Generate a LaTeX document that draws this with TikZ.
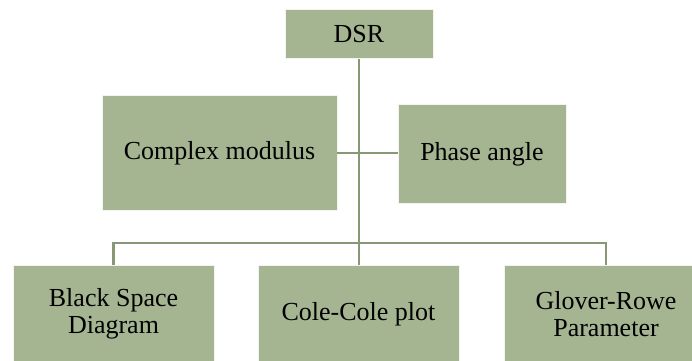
\documentclass[tikz,border=0pt]{standalone}
\usepackage{fontspec}
\setmainfont{Liberation Serif}
\definecolor{sage}{RGB}{165,181,146}
\definecolor{linec}{RGB}{136,152,118}
\begin{document}
\begin{tikzpicture}[x=1pt,y=-1pt,
  box/.style={draw=white!85!sage, line width=0.8pt, fill=sage, inner sep=0pt, align=center,
    font=\fontsize{26}{27}\selectfont, text=black},
  conn/.style={draw=linec, line width=2.8pt}]
\useasboundingbox (0,0) rectangle (692,360);
\clip (0,0) rectangle (692,360);
\node[box, minimum width=148pt, minimum height=49pt] (dsr) at (359,34) {DSR};
\node[box, minimum width=235pt, minimum height=115pt] (cm) at (219.5,153) {Complex modulus};
\node[box, minimum width=168pt, minimum height=99pt] (pa) at (482,154) {Phase angle};
\node[box, minimum width=201pt, minimum height=98pt] (bs) at (113.5,314) {Black Space\\Diagram};
\node[box, minimum width=201pt, minimum height=98pt] (cc) at (358.5,314) {Cole-Cole plot};
\node[box, minimum width=204pt, minimum height=98pt] (gr) at (606,314) {Glover-Rowe\\Parameter};
\coordinate (busL) at (113.5,243);
\coordinate (busR) at (606,243);
\draw[conn] (dsr.south) -- (dsr.south |- cc.north);
\draw[conn] (bs.north) -- (busL) -- (busR) -- (gr.north);
\draw[conn] (cm.east) -- (cm.east -| pa.west);
\end{tikzpicture}
\end{document}
